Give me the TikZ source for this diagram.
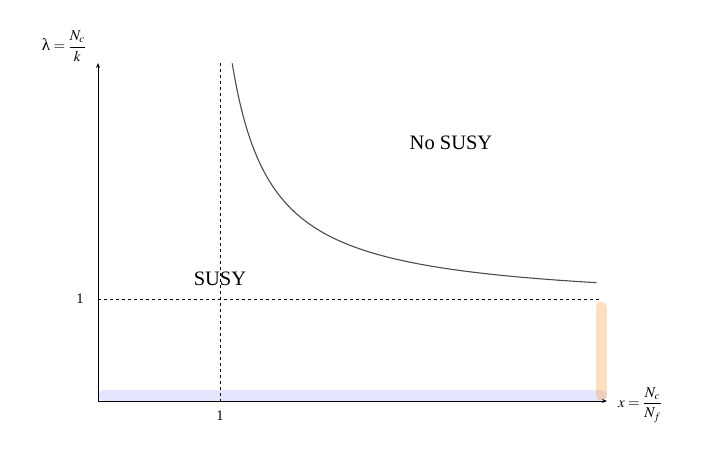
\documentclass[tikz,border=0pt]{standalone}
\usepackage{mathptmx}
\usepackage{fontspec}
\setmainfont{Liberation Serif}
\usetikzlibrary{arrows.meta}
\begin{document}
\begin{tikzpicture}[x=1pt,y=-1pt,
  axis/.style={line width=0.9pt,-{Stealth[length=5pt,width=4pt]}},
  guide/.style={dashed,line width=0.8pt},
  region/.style={font=\fontsize{20.5}{24}\selectfont},
  tick/.style={font=\fontsize{14.5}{17}\selectfont},
  axlabel/.style={font=\fontsize{15}{18}\selectfont}]
\useasboundingbox (0,0) rectangle (708,463);
\coordinate (O) at (98,401);
\coordinate (ytop) at (98,63);
\coordinate (xend) at (607,401);
\coordinate (hl) at (98,299);
\coordinate (hr) at (600,299);
\coordinate (vt) at (220,63);
\coordinate (vb) at (220,401);
% bands
\coordinate (b1) at (103.5,395);
\coordinate (b2) at (601.3,395);
\coordinate (o1) at (601.3,307);
\draw[line width=11pt,line cap=round,blue,draw opacity=0.1] (b1) -- (b2);
\draw[line width=11pt,line cap=round,orange,draw opacity=0.25] (o1) -- (b2);
% guides
\draw[guide] (hl) -- (hr);
\draw[guide] (vt) -- (vb);
% axes
\draw[axis] (O) -- (ytop);
\draw[axis] (O) -- (xend);
% curve
\draw[line width=1.1pt,black!70] plot[domain=1.1:4.088,samples=120,smooth]
  ({98+122*\x},{401-102*(0.926+0.775/(\x-0.775))});
% labels
\node[region] (susy) at (220,279) {SUSY};
\node[region] (nosusy) at (451,143) {No SUSY};
\node[tick] (one-y) at (80,299) {1};
\node[tick] (one-x) at (220,416) {1};
\node[axlabel] (lam) at (64,46) {{\fontsize{17}{18}\selectfont λ}$\;{=}\;\displaystyle\frac{N_c}{k}$};
\node[axlabel] (xl) at (640,405) {$x=\displaystyle\frac{N_c}{N_f}$};
\end{tikzpicture}
\end{document}
